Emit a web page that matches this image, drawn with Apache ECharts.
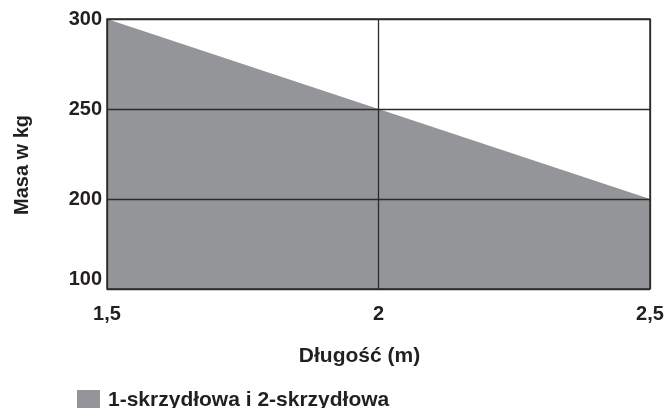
<!DOCTYPE html>
<html>
<head>
<meta charset="utf-8">
<script src="https://cdn.jsdelivr.net/npm/echarts@6/dist/echarts.min.js"></script>
<style>html,body{margin:0;padding:0;background:#fff;}#c{width:668px;height:408px;}</style>
</head>
<body>
<div id="c"></div>
<script>
var lengths = [1.5, 2, 2.5];
var masses = [300, 250, 200];
var yTickLabels = ['100', '200', '250', '300'];
var seriesName = '1-skrzydłowa i 2-skrzydłowa';
var xName = 'Długość (m)';
var yName = 'Masa w kg';

var data = lengths.map(function (l, i) { return [l, yTickLabels.indexOf(String(masses[i]))]; });
var font = '"Liberation Sans", Arial, sans-serif';
var txt = { fontFamily: font, fontWeight: 'bold', fontSize: 20, color: '#231f20' };
var chart = echarts.init(document.getElementById('c'));
chart.setOption({
  animation: false,
  grid: { left: 107, right: 18, top: 19, bottom: 119, show: true, borderColor: '#2b2b2b', borderWidth: 1.5, containLabel: false },
  legend: {
    show: true, left: 72, top: 385, itemWidth: 23, itemHeight: 21, itemGap: 6,
    icon: 'rect',
    textStyle: Object.assign({}, txt, { fontSize: 21, padding: [0, 0, 0, 3] }),
    data: [{ name: seriesName, itemStyle: { color: '#939598' } }]
  },
  xAxis: {
    type: 'value', min: 1.5, max: 2.5, interval: 0.5,
    name: xName, nameLocation: 'middle', nameGap: 57,
    nameTextStyle: Object.assign({}, txt, { fontSize: 21, padding: [0, 38, 0, 0] }),
    axisLine: { show: false }, axisTick: { show: false },
    axisLabel: Object.assign({ margin: 15,
      formatter: function (v) { return String(v).replace('.', ','); } }, txt),
    splitLine: { show: true, lineStyle: { color: '#2b2b2b', width: 1.3 } }
  },
  yAxis: {
    type: 'value', min: 0, max: 3, interval: 1,
    name: yName, nameLocation: 'middle', nameGap: 75, nameRotate: 90,
    nameTextStyle: Object.assign({}, txt, { padding: [0, 22, 0, 0] }),
    axisLine: { show: false }, axisTick: { show: false },
    axisLabel: Object.assign({ margin: 5, verticalAlignMinLabel: 'bottom',
      formatter: function (v) { return yTickLabels[v]; } }, txt),
    splitLine: { show: true, lineStyle: { color: '#2b2b2b', width: 1.3 } }
  },
  series: [{
    name: seriesName, type: 'line', z: -1, data: data, symbol: 'none',
    lineStyle: { width: 0, color: '#939598' }, itemStyle: { color: '#939598' },
    areaStyle: { color: '#939598', opacity: 1, origin: 'start' }
  }]
});
</script>
</body>
</html>
